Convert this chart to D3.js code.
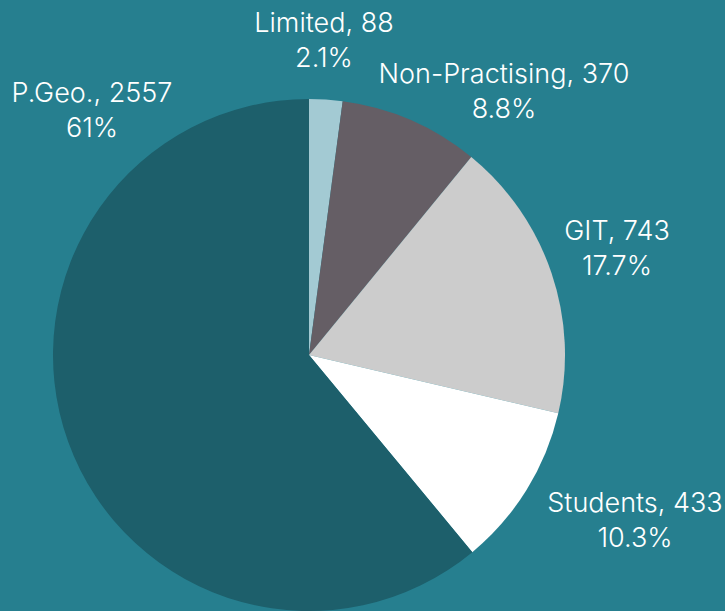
<!DOCTYPE html>
<html>
<head>
<meta charset="utf-8">
<script src="https://cdn.jsdelivr.net/npm/d3@7"></script>
<style>
  html, body { margin: 0; padding: 0; background: #267f8f; }
  svg { display: block; }
  .lbl { font-family: Inter, "Noto Sans", sans-serif; font-size: 27px; font-weight: 300; fill: #ffffff; }
</style>
</head>
<body>
<svg id="chart" width="725" height="611"></svg>
<script>
// 数据：类别、数值、颜色
var categories = ["Limited", "Non-Practising", "GIT", "Students", "P.Geo."];
var counts = [88, 370, 743, 433, 2557];
var percentLabels = ["2.1%", "8.8%", "17.7%", "10.3%", "61%"];
var sliceColors = ["#a3cad3", "#655e65", "#cccccc", "#ffffff", "#1d5f6b"];

// 布局：饼图中心与半径，标签中心位置（第一行基线）
var cx = 309, cy = 355, radius = 256;
var labelAt = {
	"Limited": [324, 32],
	"Non-Practising": [504, 83],
	"GIT": [617, 240],
	"Students": [635, 512],
	"P.Geo.": [92, 102]
};
var lineGap = 35;

var svg = d3.select("#chart");
var g = svg.append("g").attr("transform", "translate(" + cx + "," + cy + ")");

var pie = d3.pie().sort(null).value(function (d) { return d.value; });
var arc = d3.arc().innerRadius(0).outerRadius(radius);

var rows = categories.map(function (c, i) {
	return { name: c, value: counts[i], pct: percentLabels[i], color: sliceColors[i] };
});

// 画扇形
g.selectAll("path")
	.data(pie(rows))
	.enter().append("path")
	.attr("d", arc)
	.attr("fill", function (d) { return d.data.color; });

// 画标签，两行：名称+数值，百分比
var labels = svg.selectAll("text.lbl")
	.data(rows)
	.enter().append("text")
	.attr("class", "lbl")
	.attr("text-anchor", "middle")
	.attr("x", function (d) { return labelAt[d.name][0]; })
	.attr("y", function (d) { return labelAt[d.name][1]; });

labels.append("tspan")
	.attr("x", function (d) { return labelAt[d.name][0]; })
	.text(function (d) { return d.name + ", " + d.value; });
labels.append("tspan")
	.attr("x", function (d) { return labelAt[d.name][0]; })
	.attr("dy", lineGap)
	.text(function (d) { return d.pct; });
</script>
</body>
</html>
